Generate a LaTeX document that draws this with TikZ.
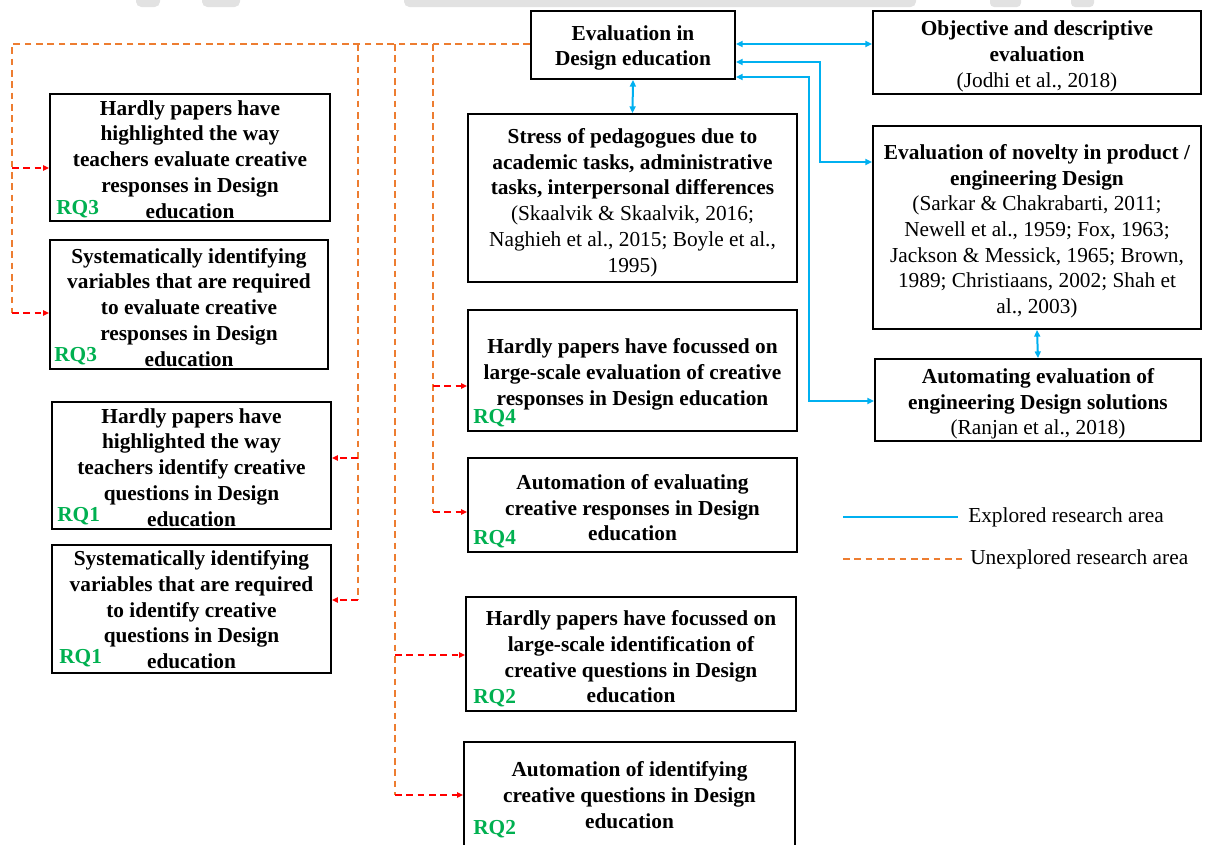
\documentclass[tikz,border=0pt]{standalone}
\usepackage{fontspec}
\setmainfont{Liberation Serif}
\usetikzlibrary{arrows.meta}
\definecolor{expblue}{HTML}{00B0F0}
\definecolor{unexporange}{HTML}{ED7D31}
\definecolor{arrred}{HTML}{FF0000}
\definecolor{rqgreen}{HTML}{00B050}
\definecolor{bandgray}{HTML}{E2E2E2}
% invisible strut that gives the first line extra height
\newcommand\toppad[1]{\rule{0pt}{#1}}
\begin{document}
\begin{tikzpicture}[x=0.75pt,y=-0.75pt,
  bx/.style 2 args={draw=black, line width=1.4pt, align=center, inner sep=0pt,
    minimum width=#1*0.75pt, minimum height=#2*0.75pt,
    font=\fontsize{16}{19.3}\selectfont\bfseries},
  rq/.style={anchor=west, text=rqgreen, inner sep=0pt,
    font=\fontsize{16}{19}\selectfont\bfseries},
  lgtext/.style={anchor=west, inner sep=0pt, font=\fontsize{16}{19}\selectfont},
  exp/.style={draw=expblue, line width=1.5pt, >={Triangle[length=5pt,width=4.5pt]}, <->},
  expline/.style={draw=expblue, line width=1.2pt},
  unexp/.style={draw=unexporange, line width=1.1pt, dash pattern=on 5pt off 3.5pt},
  redarr/.style={draw=arrred, line width=1.1pt, dash pattern=on 5pt off 3.5pt,
    >={Triangle[length=4.5pt,width=4pt]}, ->}]
\useasboundingbox (0,0) rectangle (1208,844);

% faint grey shapes cut off by the top edge
\fill[bandgray, rounded corners=4pt] (136,-6) rectangle (160,7);
\fill[bandgray, rounded corners=4pt] (202,-6) rectangle (240,7);
\fill[bandgray, rounded corners=4pt] (404,-6) rectangle (916,7);
\fill[bandgray, rounded corners=3pt] (990,-6) rectangle (1021,7);
\fill[bandgray, rounded corners=3pt] (1071,-6) rectangle (1094,7);

% ---------- boxes ----------
\node[bx={204}{68}] (eval) at (633,45) {\toppad{15.4pt}Evaluation in\\Design education};
\node[bx={328}{83}] (obj) at (1037,52.5) {\toppad{16.9pt}Objective and descriptive\\evaluation\\\mdseries (Jodhi et al., 2018)};
\node[bx={329}{168}] (stress) at (632.5,198) {\toppad{18pt}Stress of pedagogues due to\\academic tasks, administrative\\tasks, interpersonal differences\\\mdseries (Skaalvik \& Skaalvik, 2016;\\\mdseries Naghieh et al., 2015; Boyle et al.,\\\mdseries 1995)};
\node[bx={328}{203}] (nov) at (1037,227.5) {\toppad{16.9pt}Evaluation of novelty in product /\\engineering Design\\\mdseries (Sarkar \& Chakrabarti, 2011;\\\mdseries Newell et al., 1959; Fox, 1963;\\\mdseries Jackson \& Messick, 1965; Brown,\\\mdseries 1989; Christiaans, 2002; Shah et\\\mdseries al., 2003)};
\node[bx={326}{82}] (auto) at (1038,400) {\toppad{16.9pt}Automating evaluation of\\engineering Design solutions\\\mdseries (Ranjan et al., 2018)};

\node[bx={329}{121}] (rqfa) at (632.5,370.5) {\toppad{16.9pt}Hardly papers have focussed on\\large-scale evaluation of creative\\responses in Design education};
\node[bx={329}{94}] (rqfb) at (632.5,505) {\toppad{15.4pt}Automation of evaluating\\creative responses in Design\\education};
\node[bx={280}{127}] (rqta) at (190,157.5) {\toppad{13.9pt}Hardly papers have\\highlighted the way\\teachers evaluate creative\\responses in Design\\education};
\node[bx={278}{129}] (rqtb) at (189,304.5) {\toppad{15.4pt}Systematically identifying\\variables that are required\\to evaluate creative\\responses in Design\\education};
\node[bx={279}{127}] (rqoa) at (191.5,465.5) {\toppad{13.9pt}Hardly papers have\\highlighted the way\\teachers identify creative\\questions in Design\\education};
\node[bx={279}{128}] (rqob) at (191.5,609) {\toppad{12.4pt}Systematically identifying\\variables that are required\\to identify creative\\questions in Design\\education};
\node[bx={330}{114}] (rqsa) at (631,654) {\toppad{15.4pt}Hardly papers have focussed on\\large-scale identification of\\creative questions in Design\\education};
\node[bx={331}{106}] (rqsb) at (629.5,795) {Automation of identifying\\creative questions in Design\\education};

% research-question tags
\node[rq] (tagta) at (56,209) {RQ3};
\node[rq] (tagtb) at (54,356) {RQ3};
\node[rq] (tagoa) at (57,516) {RQ1};
\node[rq] (tagob) at (59,658) {RQ1};
\node[rq] (tagfa) at (473,418) {RQ4};
\node[rq] (tagfb) at (473,539) {RQ4};
\node[rq] (tagsa) at (473,698) {RQ2};
\node[rq] (tagsb) at (473,829) {RQ2};

% ---------- explored links ----------
\coordinate (bendN1) at (820,62);
\coordinate (bendN2) at (820,162);
\coordinate (bendA1) at (809,77);
\coordinate (bendA2) at (809,401);
\draw[exp] (eval.east |- 0,44) -- (obj.west |- 0,44);
\draw[exp] (eval.east |- bendN1) -- (bendN1) -- (bendN2) -- (nov.west |- bendN2);
\draw[exp] (eval.east |- bendA1) -- (bendA1) -- (bendA2) -- (auto.west |- bendA2);
\draw[exp] (eval.south) -- (stress.north);
\draw[exp] (nov.south) -- (auto.north);

% ---------- unexplored links ----------
\coordinate (trunkL) at (12,44);
\coordinate (trunkO) at (358,44);
\coordinate (trunkS) at (395,44);
\coordinate (trunkF) at (433,44);
\coordinate (endL) at (12,313);
\coordinate (endO) at (358,600);
\coordinate (endS) at (395,795);
\coordinate (endF) at (433,512);
\draw[unexp] (eval.west |- trunkL) -- (trunkL) -- (endL);
\draw[unexp] (trunkO) -- (endO);
\draw[unexp] (trunkS) -- (endS);
\draw[unexp] (trunkF) -- (endF);

\coordinate (brTa) at (12,168);
\coordinate (brOa) at (358,458);
\coordinate (brSa) at (395,655);
\coordinate (brFa) at (433,386);
\draw[redarr] (brTa) -- (brTa -| rqta.west);
\draw[redarr] (endL) -- (endL -| rqtb.west);
\draw[redarr] (brOa) -- (brOa -| rqoa.east);
\draw[redarr] (endO) -- (endO -| rqob.east);
\draw[redarr] (brSa) -- (brSa -| rqsa.west);
\draw[redarr] (endS) -- (endS -| rqsb.west);
\draw[redarr] (brFa) -- (brFa -| rqfa.west);
\draw[redarr] (endF) -- (endF -| rqfb.west);

% ---------- legend ----------
\coordinate (lgE1) at (843,517);
\coordinate (lgE2) at (958,517);
\coordinate (lgU1) at (843,559);
\coordinate (lgU2) at (962,559);
\draw[expline] (lgE1) -- (lgE2);
\draw[unexp] (lgU1) -- (lgU2);
\node[lgtext] (lgexp) at (968,517) {Explored research area};
\node[lgtext] (lgunexp) at (970,559) {Unexplored research area};
\end{tikzpicture}
\end{document}
